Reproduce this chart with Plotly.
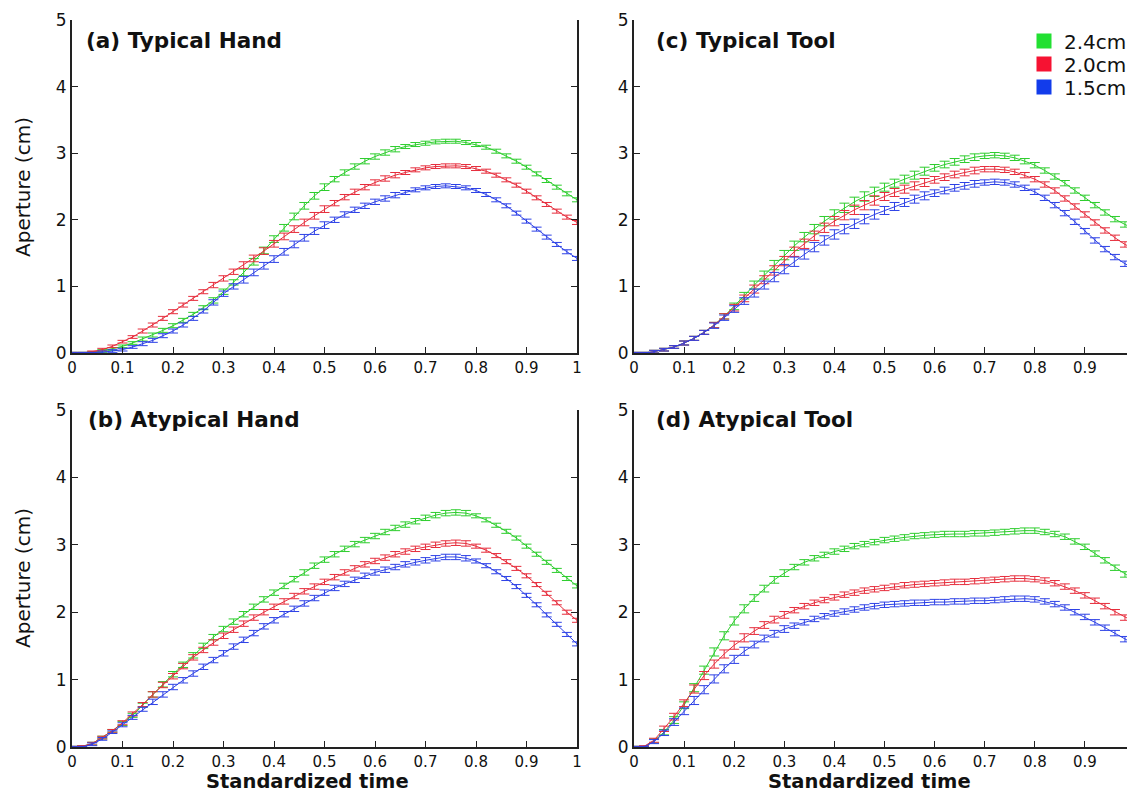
import plotly.graph_objects as go

# page body has an 8px margin, so the figure is drawn 8px in from the window corner
OFF = 8
W, H = 1135 - OFF, 792 - OFF


def px_x(sx):
    return (sx - OFF) / W


def px_y(sy):
    return 1 - (sy - OFF) / H


time = [0.00, 0.02, 0.04, 0.06, 0.08, 0.10, 0.12, 0.14, 0.16, 0.18,
        0.20, 0.22, 0.24, 0.26, 0.28, 0.30, 0.32, 0.34, 0.36, 0.38,
        0.40, 0.42, 0.44, 0.46, 0.48, 0.50, 0.52, 0.54, 0.56, 0.58,
        0.60, 0.62, 0.64, 0.66, 0.68, 0.70, 0.72, 0.74, 0.76, 0.78,
        0.80, 0.82, 0.84, 0.86, 0.88, 0.90, 0.92, 0.94, 0.96, 0.98, 1.00]

sizes = ["2.4cm", "2.0cm", "1.5cm"]

# (a) Typical Hand
hand_typ_24 = [0.00, 0.00, 0.01, 0.03, 0.06, 0.10, 0.15, 0.21, 0.27, 0.34,
               0.41, 0.49, 0.58, 0.68, 0.79, 0.92, 1.06, 1.21, 1.37, 1.54,
               1.71, 1.88, 2.05, 2.21, 2.36, 2.49, 2.61, 2.71, 2.80, 2.88,
               2.95, 3.01, 3.06, 3.10, 3.13, 3.15, 3.17, 3.18, 3.18, 3.16,
               3.13, 3.09, 3.03, 2.96, 2.88, 2.79, 2.69, 2.59, 2.49, 2.39, 2.30]
hand_typ_20 = [0.00, 0.00, 0.02, 0.05, 0.10, 0.17, 0.24, 0.33, 0.42, 0.52,
               0.62, 0.72, 0.82, 0.92, 1.02, 1.12, 1.22, 1.32, 1.42, 1.53,
               1.64, 1.75, 1.86, 1.96, 2.06, 2.16, 2.25, 2.34, 2.42, 2.49,
               2.56, 2.62, 2.67, 2.71, 2.75, 2.78, 2.80, 2.81, 2.81, 2.80,
               2.77, 2.73, 2.67, 2.60, 2.52, 2.43, 2.33, 2.23, 2.13, 2.04, 1.96]
hand_typ_15 = [0.00, 0.00, 0.00, 0.01, 0.03, 0.05, 0.09, 0.14, 0.19, 0.26,
               0.33, 0.42, 0.52, 0.63, 0.76, 0.89, 1.00, 1.10, 1.21, 1.31,
               1.41, 1.52, 1.63, 1.73, 1.83, 1.92, 2.00, 2.08, 2.15, 2.21,
               2.27, 2.32, 2.37, 2.41, 2.45, 2.48, 2.50, 2.51, 2.50, 2.48,
               2.44, 2.38, 2.30, 2.21, 2.10, 1.98, 1.86, 1.74, 1.63, 1.52, 1.42]
hand_typ_err = [0.01, 0.01, 0.01, 0.02, 0.02, 0.02, 0.02, 0.03, 0.03, 0.03,
                0.03, 0.03, 0.03, 0.03, 0.04, 0.04, 0.04, 0.05, 0.05, 0.05,
                0.05, 0.05, 0.05, 0.05, 0.05, 0.05, 0.04, 0.04, 0.04, 0.04,
                0.04, 0.04, 0.04, 0.03, 0.03, 0.03, 0.03, 0.03, 0.03, 0.03,
                0.03, 0.03, 0.03, 0.03, 0.03, 0.03, 0.03, 0.03, 0.03, 0.03, 0.03]

# (b) Atypical Hand
hand_atyp_24 = [0.00, 0.01, 0.05, 0.14, 0.24, 0.35, 0.47, 0.62, 0.78, 0.93,
                1.08, 1.22, 1.36, 1.50, 1.63, 1.75, 1.86, 1.97, 2.08, 2.19,
                2.29, 2.39, 2.49, 2.59, 2.69, 2.78, 2.86, 2.94, 3.01, 3.07,
                3.13, 3.19, 3.25, 3.30, 3.35, 3.40, 3.44, 3.47, 3.48, 3.47,
                3.43, 3.37, 3.29, 3.20, 3.10, 2.98, 2.86, 2.74, 2.62, 2.50, 2.39]
hand_atyp_20 = [0.00, 0.01, 0.05, 0.14, 0.24, 0.36, 0.49, 0.63, 0.78, 0.92,
                1.05, 1.20, 1.33, 1.44, 1.55, 1.65, 1.74, 1.83, 1.92, 2.00,
                2.08, 2.16, 2.24, 2.31, 2.38, 2.45, 2.52, 2.59, 2.65, 2.71,
                2.76, 2.81, 2.86, 2.90, 2.94, 2.97, 3.00, 3.02, 3.03, 3.02,
                2.98, 2.92, 2.84, 2.75, 2.65, 2.54, 2.41, 2.28, 2.14, 2.00, 1.88]
hand_atyp_15 = [0.00, 0.00, 0.04, 0.12, 0.22, 0.33, 0.44, 0.56, 0.67, 0.78,
                0.89, 0.99, 1.09, 1.19, 1.29, 1.39, 1.49, 1.59, 1.69, 1.79,
                1.88, 1.97, 2.05, 2.13, 2.21, 2.29, 2.36, 2.42, 2.48, 2.54,
                2.59, 2.63, 2.67, 2.71, 2.74, 2.77, 2.80, 2.82, 2.82, 2.80,
                2.76, 2.69, 2.60, 2.50, 2.38, 2.25, 2.11, 1.96, 1.82, 1.67, 1.53]
hand_atyp_err = [0.01, 0.01, 0.02, 0.02, 0.02, 0.03, 0.03, 0.03, 0.04, 0.04,
                 0.04, 0.04, 0.04, 0.04, 0.04, 0.04, 0.04, 0.04, 0.04, 0.04,
                 0.04, 0.04, 0.04, 0.04, 0.04, 0.04, 0.04, 0.04, 0.04, 0.04,
                 0.04, 0.04, 0.04, 0.04, 0.04, 0.04, 0.04, 0.04, 0.04, 0.04,
                 0.03, 0.03, 0.03, 0.03, 0.03, 0.03, 0.03, 0.03, 0.03, 0.03, 0.03]

# (c) Typical Tool
tool_typ_24 = [0.00, 0.00, 0.02, 0.05, 0.09, 0.15, 0.22, 0.31, 0.42, 0.55,
               0.70, 0.86, 1.02, 1.17, 1.32, 1.47, 1.61, 1.74, 1.86, 1.98,
               2.08, 2.18, 2.27, 2.35, 2.42, 2.49, 2.55, 2.61, 2.67, 2.73,
               2.78, 2.83, 2.87, 2.91, 2.94, 2.96, 2.97, 2.96, 2.93, 2.88,
               2.82, 2.74, 2.65, 2.55, 2.44, 2.33, 2.22, 2.11, 2.01, 1.93, 1.86]
tool_typ_20 = [0.00, 0.00, 0.02, 0.05, 0.09, 0.15, 0.22, 0.31, 0.42, 0.55,
               0.68, 0.82, 0.96, 1.10, 1.24, 1.38, 1.52, 1.64, 1.76, 1.88,
               1.98, 2.07, 2.15, 2.22, 2.29, 2.35, 2.41, 2.46, 2.51, 2.56,
               2.60, 2.64, 2.68, 2.71, 2.74, 2.76, 2.76, 2.75, 2.72, 2.67,
               2.61, 2.53, 2.44, 2.32, 2.20, 2.08, 1.96, 1.84, 1.73, 1.63, 1.56]
tool_typ_15 = [0.00, 0.00, 0.02, 0.05, 0.09, 0.15, 0.22, 0.31, 0.41, 0.53,
               0.66, 0.78, 0.90, 1.02, 1.14, 1.26, 1.37, 1.48, 1.59, 1.69,
               1.78, 1.86, 1.94, 2.01, 2.08, 2.14, 2.20, 2.26, 2.31, 2.36,
               2.40, 2.44, 2.48, 2.51, 2.54, 2.56, 2.57, 2.56, 2.53, 2.48,
               2.42, 2.33, 2.22, 2.10, 1.97, 1.83, 1.69, 1.56, 1.44, 1.34, 1.26]
tool_typ_err = [0.01, 0.01, 0.02, 0.02, 0.02, 0.03, 0.03, 0.03, 0.04, 0.04,
                0.05, 0.05, 0.06, 0.06, 0.07, 0.07, 0.07, 0.07, 0.07, 0.07,
                0.07, 0.07, 0.07, 0.07, 0.07, 0.06, 0.06, 0.06, 0.06, 0.06,
                0.05, 0.05, 0.05, 0.05, 0.05, 0.04, 0.04, 0.04, 0.04, 0.04,
                0.04, 0.04, 0.04, 0.04, 0.04, 0.04, 0.04, 0.04, 0.04, 0.04, 0.04]

# (d) Atypical Tool
tool_atyp_24 = [0.00, 0.00, 0.09, 0.22, 0.40, 0.62, 0.88, 1.14, 1.41, 1.65,
                1.87, 2.05, 2.21, 2.35, 2.48, 2.58, 2.67, 2.74, 2.80, 2.85,
                2.90, 2.94, 2.98, 3.01, 3.04, 3.07, 3.09, 3.11, 3.13, 3.14,
                3.15, 3.16, 3.16, 3.16, 3.17, 3.17, 3.18, 3.19, 3.20, 3.21,
                3.21, 3.19, 3.16, 3.12, 3.05, 2.97, 2.87, 2.77, 2.66, 2.56, 2.47]
tool_atyp_20 = [0.00, 0.01, 0.10, 0.27, 0.45, 0.65, 0.86, 1.06, 1.23, 1.38,
                1.51, 1.62, 1.72, 1.81, 1.89, 1.96, 2.03, 2.09, 2.14, 2.18,
                2.22, 2.26, 2.29, 2.32, 2.34, 2.36, 2.38, 2.40, 2.41, 2.42,
                2.43, 2.44, 2.45, 2.45, 2.46, 2.47, 2.48, 2.49, 2.50, 2.50,
                2.49, 2.47, 2.43, 2.38, 2.32, 2.25, 2.17, 2.09, 2.00, 1.92, 1.85]
tool_atyp_15 = [0.00, 0.00, 0.08, 0.21, 0.37, 0.53, 0.69, 0.85, 1.01, 1.16,
                1.30, 1.42, 1.52, 1.61, 1.68, 1.75, 1.80, 1.85, 1.90, 1.94,
                1.98, 2.01, 2.04, 2.07, 2.09, 2.11, 2.12, 2.13, 2.14, 2.14,
                2.15, 2.15, 2.16, 2.16, 2.17, 2.17, 2.18, 2.19, 2.20, 2.20,
                2.19, 2.16, 2.12, 2.07, 2.00, 1.93, 1.85, 1.77, 1.69, 1.60, 1.52]
tool_atyp_err = [0.01, 0.01, 0.03, 0.04, 0.05, 0.05, 0.06, 0.06, 0.06, 0.06,
                 0.06, 0.06, 0.05, 0.05, 0.05, 0.05, 0.04, 0.04, 0.04, 0.04,
                 0.04, 0.04, 0.04, 0.04, 0.04, 0.04, 0.04, 0.04, 0.04, 0.04,
                 0.04, 0.04, 0.04, 0.04, 0.04, 0.04, 0.04, 0.04, 0.04, 0.04,
                 0.04, 0.04, 0.04, 0.04, 0.04, 0.04, 0.04, 0.04, 0.04, 0.04, 0.04]

panel_titles = ["(a) Typical Hand", "(b) Atypical Hand", "(c) Typical Tool", "(d) Atypical Tool"]
x_ticks_full = [0, 0.1, 0.2, 0.3, 0.4, 0.5, 0.6, 0.7, 0.8, 0.9, 1]
x_ticks_cut = [0, 0.1, 0.2, 0.3, 0.4, 0.5, 0.6, 0.7, 0.8, 0.9]
y_ticks = [0, 1, 2, 3, 4, 5]

line_colors = ["rgb(45,205,45)", "rgb(230,45,60)", "rgb(45,65,230)"]
legend_colors = ["rgb(34,224,50)", "rgb(246,18,50)", "rgb(18,60,235)"]
FONT = "DejaVu Sans"

panels = [
    dict(series=[hand_typ_24, hand_typ_20, hand_typ_15], err=hand_typ_err,
         px=(72, 577), py=(20, 353), ticks=x_ticks_full),
    dict(series=[hand_atyp_24, hand_atyp_20, hand_atyp_15], err=hand_atyp_err,
         px=(72, 577), py=(410, 747), ticks=x_ticks_full),
    dict(series=[tool_typ_24, tool_typ_20, tool_typ_15], err=tool_typ_err,
         px=(634, 1135), py=(20, 353), ticks=x_ticks_cut),
    dict(series=[tool_atyp_24, tool_atyp_20, tool_atyp_15], err=tool_atyp_err,
         px=(634, 1135), py=(410, 747), ticks=x_ticks_cut),
]

fig = go.Figure()
layout = {}
for i, p in enumerate(panels):
    n = "" if i == 0 else str(i + 1)
    xa, ya = "x" + n, "y" + n
    for s, col in zip(p["series"], line_colors):
        fig.add_trace(go.Scatter(
            x=time, y=s, xaxis=xa, yaxis=ya, mode="lines",
            line=dict(color=col, width=1), showlegend=False, hoverinfo="skip",
            error_y=dict(type="data", array=p["err"], visible=True,
                         color=col, thickness=1, width=5)))
    layout["xaxis" + n] = dict(
        domain=[px_x(p["px"][0]), min(px_x(p["px"][1]), 1.0)], anchor=ya,
        range=[0, 1], tickvals=p["ticks"], ticktext=[f"{v:g}" for v in p["ticks"]],
        ticks="inside", ticklen=6, tickwidth=1, tickcolor="#222",
        showline=True, linewidth=2, linecolor="#222", mirror=False,
        showgrid=False, zeroline=False, automargin=False,
        tickfont=dict(family=FONT, size=15, color="#111"))
    layout["yaxis" + n] = dict(
        domain=[px_y(p["py"][1]), px_y(p["py"][0])], anchor=xa,
        range=[0, 5], tickvals=y_ticks,
        ticks="inside", ticklen=6, tickwidth=1, tickcolor="#222",
        showline=True, linewidth=2, linecolor="#222", mirror="ticks",
        showgrid=False, zeroline=False, automargin=False,
        tickfont=dict(family=FONT, size=17, color="#111"))

# legend entries: one small legend per size so each row sits where the reference has it
legend_rows = [41, 64, 87]
legend_layout = {}
for k, (name, col, ry) in enumerate(zip(sizes, legend_colors, legend_rows)):
    lg = "legend" if k == 0 else f"legend{k + 1}"
    fig.add_trace(go.Scatter(
        x=[None], y=[None], mode="markers", name=name, legend=lg,
        marker=dict(symbol="square", size=15, color=col), showlegend=True))
    legend_layout[lg] = dict(
        x=px_x(1024), y=px_y(ry), xanchor="left", yanchor="middle",
        bgcolor="rgba(0,0,0,0)", borderwidth=0,
        font=dict(family=FONT, size=20, color="#111"), itemwidth=30)

annotations = []
title_pos = [(84, 40), (86, 419), (654, 40), (654, 419)]
for (ax, ay), txt in zip(title_pos, panel_titles):
    annotations.append(dict(
        text=txt, x=px_x(ax), y=px_y(ay), xref="paper", yref="paper",
        xanchor="left", yanchor="middle", showarrow=False,
        font=dict(family=FONT, size=21.5, color="#111", weight="bold")))
for cx in (307, 869):
    annotations.append(dict(
        text="Standardized time", x=px_x(cx), y=px_y(781), xref="paper", yref="paper",
        xanchor="center", yanchor="middle", showarrow=False,
        font=dict(family=FONT, size=19.5, color="#111", weight="bold")))
for cy in (187, 578):
    annotations.append(dict(
        text="Aperture (cm)", x=px_x(23), y=px_y(cy), xref="paper", yref="paper",
        xanchor="center", yanchor="middle", textangle=-90, showarrow=False,
        font=dict(family=FONT, size=20, color="#111")))

fig.update_layout(
    width=W, height=H, autosize=False,
    margin=dict(l=0, r=0, t=0, b=0, pad=0, autoexpand=False),
    paper_bgcolor="white", plot_bgcolor="white",
    font=dict(family=FONT, color="#111"),
    annotations=annotations,
    **legend_layout,
    **layout)

fig.write_html("out.html")
